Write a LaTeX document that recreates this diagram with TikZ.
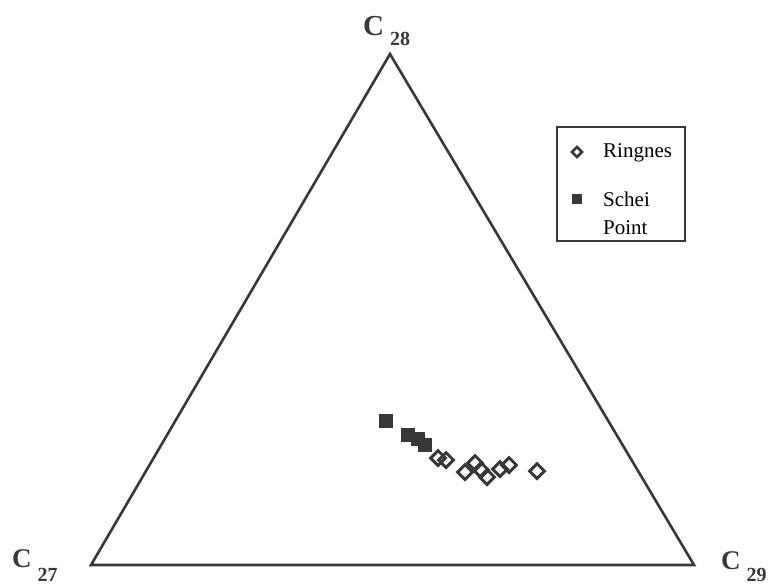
\documentclass[tikz,border=0pt]{standalone}
\usepackage{fontspec}
\setmainfont{Liberation Serif}
\usetikzlibrary{shapes.geometric}
\colorlet{ink}{black!78}
\newcommand{\apexlabel}[3]{{\fontsize{#1}{#1}\selectfont\bfseries C}\hspace{6pt}\raisebox{#2}{\fontsize{20}{20}\selectfont\bfseries #3}}

\begin{document}
\begin{tikzpicture}[x=1pt, y=-1pt,
     edge/.style = {draw=ink, line width=2.6pt, line join=miter},
   ringnes/.style = {diamond, draw=ink, line width=3pt, minimum size=16pt, inner sep=0pt},
     schei/.style = {rectangle, fill=ink, minimum size=14pt, inner sep=0pt},
      vlab/.style = {anchor=base west, inner sep=0pt, text=ink},
      ltxt/.style = {anchor=base west, inner sep=0pt, font=\fontsize{21}{28}\selectfont, align=left}
                        ]
\useasboundingbox (0,0) rectangle (776,587);
% corners of the ternary plot
\coordinate (c28) at (390,54);
\coordinate (c27) at (91,565);
\coordinate (c29) at (694,565);
\draw[edge] (c28) -- (c27) -- (c29) -- cycle;
\node (lab28) [vlab] at (363,35)  {\apexlabel{29}{-10pt}{28}};
\node (lab27) [vlab] at (12,567)  {\apexlabel{27}{-14pt}{27}};
\node (lab29) [vlab] at (721,569) {\apexlabel{27}{-12pt}{29}};
% Schei Point samples
\node (s1) [schei] at (386,421) {};
\node (s2) [schei] at (408,435) {};
\node (s3) [schei] at (418,439) {};
\node (s4) [schei] at (425,445) {};
% Ringnes samples
\node (r1) [ringnes] at (438,458) {};
\node (r2) [ringnes] at (446,460) {};
\node (r3) [ringnes] at (465,472) {};
\node (r4) [ringnes] at (475,463) {};
\node (r5) [ringnes] at (481,470) {};
\node (r6) [ringnes] at (487,477) {};
\node (r7) [ringnes] at (500,469) {};
\node (r8) [ringnes] at (509,465) {};
\node (r9) [ringnes] at (537,471) {};
% legend
\node (legend) [draw=ink, line width=1.5pt, minimum width=128pt, minimum height=114pt, inner sep=0pt] at (621,184) {};
\node (keyr) [ringnes, minimum size=11pt, line width=2.6pt] at (577,152) {};
\node (keys) [schei, minimum size=10pt] at (577,199) {};
\node (txtr) [ltxt] at (603,157) {Ringnes};
\node (txts) [ltxt] at (603,234) {Schei\\Point};
\end{tikzpicture}
\end{document}
